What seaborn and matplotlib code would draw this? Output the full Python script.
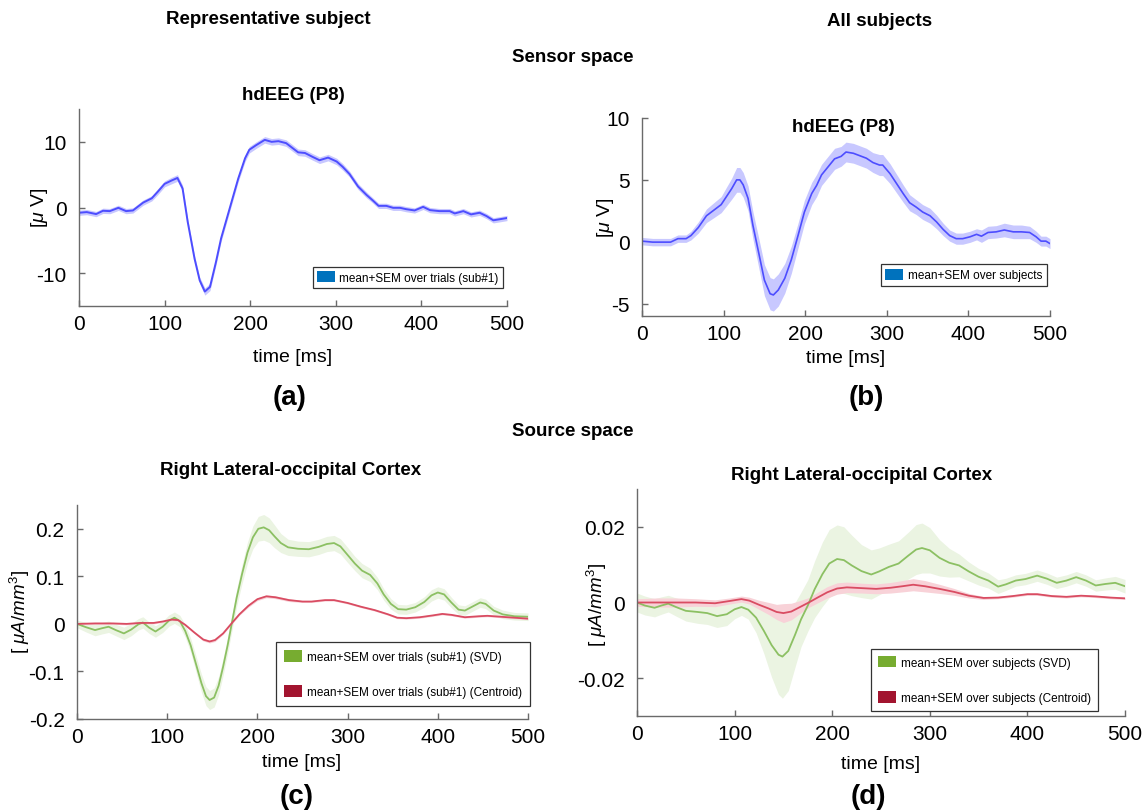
import matplotlib
matplotlib.use("Agg")
import matplotlib.pyplot as plt
import seaborn as sns
from matplotlib.patches import Patch

# ---------------- data ----------------
X_TICKS = [0, 100, 200, 300, 400, 500]
X_TICK_LABELS = ["0", "100", "200", "300", "400", "500"]

A_YTICKS = [-10, 0, 10]
A_YTICK_LABELS = ["-10", "0", "10"]
B_YTICKS = [-5, 0, 5, 10]
B_YTICK_LABELS = ["-5", "0", "5", "10"]
C_YTICKS = [-0.2, -0.1, 0, 0.1, 0.2]
C_YTICK_LABELS = ["-0.2", "-0.1", "0", "0.1", "0.2"]
D_YTICKS = [-0.02, 0, 0.02]
D_YTICK_LABELS = ["-0.02", "0", "0.02"]

# (a) hdEEG P8, representative subject
A_t = [0, 9, 20, 28, 36, 46, 55, 63, 75, 85, 92, 100, 108, 115, 121, 127, 135, 141, 147, 153,
       160, 166, 176, 186, 194, 199, 207, 217, 225, 233, 242, 250, 256, 264, 273, 281, 291, 301, 308, 316,
       326, 336, 343, 350, 359, 367, 375, 382, 392, 402, 410, 421, 433, 439, 449, 458, 468, 476, 484, 491, 500]
A_mean = [-0.8, -0.7, -1.0, -0.5, -0.55, -0.05, -0.55, -0.45, 0.75, 1.4, 2.4, 3.6, 4.1, 4.5, 2.9, -2.2, -7.8, -11.1, -12.8, -12.1,
          -8.3, -4.7, -0.15, 4.4, 7.5, 8.8, 9.5, 10.3, 10.0, 10.1, 9.8, 9.0, 8.4, 8.3, 7.7, 7.2, 7.6, 7.0, 6.2, 5.1,
          3.2, 1.9, 1.1, 0.25, 0.25, -0.05, -0.05, -0.25, -0.45, 0.1, -0.4, -0.55, -0.55, -0.9, -0.55, -1.05, -0.8, -1.3, -1.95, -1.8, -1.6]
A_sem = [0.4, 0.4, 0.4, 0.4, 0.4, 0.4, 0.4, 0.4, 0.4, 0.4, 0.45, 0.45, 0.5, 0.5, 0.5, 0.5, 0.5, 0.5, 0.55, 0.55,
         0.5, 0.5, 0.5, 0.5, 0.5, 0.5, 0.5, 0.5, 0.5, 0.5, 0.5, 0.5, 0.5, 0.5, 0.5, 0.5, 0.5, 0.5, 0.5, 0.45,
         0.45, 0.45, 0.4, 0.4, 0.4, 0.4, 0.4, 0.4, 0.4, 0.4, 0.4, 0.4, 0.4, 0.4, 0.4, 0.4, 0.4, 0.4, 0.4, 0.4, 0.4]

# (b) hdEEG P8, all subjects
B_t = [0, 13, 26, 35, 44, 54, 60, 69, 79, 87, 97, 103, 110, 116, 120, 124, 130, 136, 144, 150,
       157, 161, 167, 175, 183, 191, 199, 208, 214, 220, 228, 236, 244, 250, 259, 267, 275, 283, 291, 295,
       304, 312, 320, 328, 336, 344, 353, 361, 369, 377, 385, 393, 402, 410, 416, 424, 434, 444, 455, 465,
       475, 483, 489, 495, 500]
B_mean = [0.05, -0.03, -0.03, -0.03, 0.25, 0.25, 0.5, 1.15, 2.1, 2.5, 3.0, 3.6, 4.3, 5.0, 5.0, 4.6, 3.5, 1.3, -1.2, -3.1,
          -4.2, -4.3, -3.9, -2.95, -1.45, 0.45, 2.4, 3.9, 4.55, 5.4, 6.05, 6.7, 6.9, 7.25, 7.15, 6.95, 6.75, 6.4, 6.2, 6.2,
          5.5, 4.7, 3.9, 3.15, 2.8, 2.4, 2.1, 1.6, 1.0, 0.5, 0.25, 0.25, 0.4, 0.6, 0.45, 0.75, 0.8, 0.95, 0.8, 0.8,
          0.75, 0.4, 0.05, 0.05, -0.15]
B_sem = [0.3, 0.3, 0.3, 0.3, 0.3, 0.3, 0.35, 0.45, 0.55, 0.6, 0.65, 0.75, 0.85, 1.0, 1.0, 1.0, 1.0, 1.1, 1.2, 1.25,
         1.3, 1.3, 1.3, 1.2, 1.1, 1.0, 0.95, 0.9, 0.9, 0.85, 0.85, 0.85, 0.8, 0.8, 0.8, 0.8, 0.8, 0.8, 0.85, 0.85,
         0.8, 0.75, 0.7, 0.65, 0.6, 0.6, 0.6, 0.55, 0.5, 0.45, 0.45, 0.45, 0.45, 0.45, 0.5, 0.5, 0.5, 0.55, 0.55, 0.55,
         0.5, 0.45, 0.4, 0.4, 0.4]

# (c) source space, representative subject
C_svd_t = [0, 10, 20, 28, 35, 43, 52, 60, 68, 73, 80, 87, 95, 102, 108, 114, 120, 126, 132, 138,
           143, 147, 152, 157, 162, 167, 172, 177, 183, 189, 195, 201, 207, 213, 219, 226, 234, 245, 257, 268,
           277, 285, 292, 300, 308, 316, 325, 333, 340, 348, 356, 365, 375, 385, 393, 400, 407, 415, 423, 430,
           438, 447, 453, 462, 472, 485, 500]
C_svd = [0, -0.007, -0.013, -0.009, -0.006, -0.013, -0.02, -0.012, -0.001, 0.003, -0.008, -0.016, -0.006, 0.007, 0.013, 0.006, -0.015, -0.045, -0.085, -0.125,
         -0.152, -0.16, -0.155, -0.13, -0.09, -0.045, 0.005, 0.055, 0.105, 0.15, 0.182, 0.2, 0.203, 0.197, 0.184, 0.17, 0.161, 0.158, 0.157, 0.162,
         0.168, 0.17, 0.163, 0.145, 0.127, 0.112, 0.103, 0.085, 0.062, 0.042, 0.031, 0.03, 0.035, 0.046, 0.06, 0.066, 0.062, 0.045, 0.03, 0.028,
         0.036, 0.045, 0.042, 0.028, 0.02, 0.016, 0.015]
C_svd_sem = [0.008, 0.01, 0.012, 0.012, 0.012, 0.012, 0.013, 0.013, 0.012, 0.012, 0.012, 0.012, 0.012, 0.012, 0.012, 0.012, 0.013, 0.015, 0.017, 0.019,
             0.02, 0.02, 0.02, 0.019, 0.018, 0.017, 0.017, 0.018, 0.02, 0.022, 0.024, 0.026, 0.027, 0.026, 0.024, 0.02, 0.017, 0.016, 0.016, 0.016,
             0.016, 0.016, 0.016, 0.016, 0.015, 0.015, 0.014, 0.013, 0.012, 0.011, 0.01, 0.01, 0.01, 0.011, 0.012, 0.012, 0.012, 0.011, 0.01, 0.01,
             0.01, 0.01, 0.01, 0.009, 0.009, 0.008, 0.008]
C_cen_t = [0, 20, 40, 55, 70, 85, 95, 105, 112, 120, 130, 140, 147, 153, 162, 170, 180, 190, 200, 210,
           220, 235, 250, 260, 275, 285, 300, 315, 330, 345, 355, 365, 380, 395, 405, 415, 430, 445, 455, 470,
           485, 500]
C_cen = [0, 0.001, 0.001, 0.0, 0.002, 0.002, 0.005, 0.009, 0.008, -0.002, -0.018, -0.033, -0.037, -0.034, -0.02, -0.002, 0.02, 0.038, 0.052, 0.058,
         0.056, 0.05, 0.047, 0.047, 0.05, 0.05, 0.044, 0.036, 0.029, 0.02, 0.013, 0.012, 0.014, 0.018, 0.021, 0.019, 0.014, 0.016, 0.017, 0.015,
         0.013, 0.011]
C_cen_sem = [0.002, 0.002, 0.002, 0.002, 0.002, 0.002, 0.002, 0.002, 0.002, 0.002, 0.002, 0.003, 0.003, 0.003, 0.002, 0.002, 0.002, 0.003, 0.003, 0.003,
             0.003, 0.003, 0.002, 0.002, 0.002, 0.002, 0.002, 0.002, 0.002, 0.002, 0.002, 0.002, 0.002, 0.002, 0.002, 0.002, 0.002, 0.002, 0.002, 0.002,
             0.002, 0.002]

# (d) source space, all subjects
D_svd_t = [0, 8, 18, 25, 32, 40, 50, 62, 72, 82, 92, 100, 107, 114, 122, 130, 138, 145, 149, 155,
           162, 168, 175, 182, 190, 197, 205, 212, 220, 230, 240, 248, 258, 268, 278, 286, 292, 300, 310, 320,
           330, 340, 350, 360, 370, 378, 388, 398, 410, 420, 430, 440, 450, 460, 470, 480, 490, 500]
D_svd = [0, -0.0008, -0.0014, -0.0008, -0.0003, -0.0012, -0.0022, -0.0025, -0.0028, -0.0036, -0.0031, -0.0018, -0.0012, -0.0019, -0.004, -0.0075, -0.0113, -0.0138, -0.0143, -0.0128,
         -0.0085, -0.0045, -0.0008, 0.0035, 0.0075, 0.0103, 0.0115, 0.0112, 0.0098, 0.0083, 0.0074, 0.0082, 0.0094, 0.0103, 0.0124, 0.014, 0.0144, 0.0138, 0.0118, 0.0105,
         0.0098, 0.0082, 0.0068, 0.0058, 0.0042, 0.0048, 0.0058, 0.0062, 0.0071, 0.0063, 0.0052, 0.0058, 0.0067, 0.0058, 0.0045, 0.0049, 0.0052, 0.0043]
D_svd_sem = [0.0025, 0.0025, 0.0024, 0.0023, 0.0022, 0.0024, 0.0027, 0.003, 0.003, 0.003, 0.003, 0.0025, 0.0022, 0.0025, 0.004, 0.006, 0.0085, 0.0105, 0.011, 0.0105,
             0.0085, 0.0072, 0.0068, 0.0075, 0.0085, 0.009, 0.009, 0.0088, 0.008, 0.007, 0.0065, 0.0062, 0.006, 0.006, 0.0062, 0.0066, 0.0066, 0.006, 0.0048, 0.0038,
             0.003, 0.0025, 0.0022, 0.002, 0.0018, 0.0016, 0.0015, 0.0015, 0.0015, 0.0015, 0.0015, 0.0015, 0.0015, 0.0015, 0.0015, 0.0016, 0.0017, 0.0018]
D_cen_t = [0, 20, 40, 60, 80, 95, 107, 115, 125, 135, 143, 150, 158, 167, 176, 185, 195, 205, 215, 230,
           245, 260, 272, 283, 295, 310, 325, 340, 355, 370, 385, 400, 410, 425, 440, 455, 470, 485, 500]
D_cen = [0, 0, 0, 0, -0.0002, 0.0004, 0.0009, 0.0005, -0.0006, -0.0016, -0.0025, -0.0028, -0.0024, -0.0012, 0, 0.0013, 0.0027, 0.0037, 0.004, 0.0038,
         0.0036, 0.0039, 0.0043, 0.0047, 0.0043, 0.0036, 0.0028, 0.0018, 0.0012, 0.0013, 0.0017, 0.0022, 0.0022, 0.0017, 0.0015, 0.0018, 0.0016, 0.0013, 0.0011]
D_cen_sem = [0.001, 0.0012, 0.0012, 0.001, 0.0009, 0.0008, 0.0008, 0.0009, 0.0012, 0.0016, 0.002, 0.0025, 0.0022, 0.0017, 0.0013, 0.0014, 0.0015, 0.0015, 0.0014, 0.0013,
             0.0013, 0.0014, 0.0015, 0.0016, 0.0015, 0.0012, 0.0009, 0.0006, 0.0004, 0.0003, 0.0003, 0.0003, 0.0003, 0.0003, 0.0003, 0.0003, 0.0003, 0.0003, 0.0003]

LEG_A = ["mean+SEM over trials (sub#1)"]
LEG_B = ["mean+SEM over subjects"]
LEG_C = ["mean+SEM over trials (sub#1) (SVD)", "mean+SEM over trials (sub#1) (Centroid)"]
LEG_D = ["mean+SEM over subjects (SVD)", "mean+SEM over subjects (Centroid)"]

# ---------------- style ----------------
sns.set_theme(style="ticks")
plt.rcParams["font.family"] = ["Liberation Sans", "DejaVu Sans"]
plt.rcParams["text.color"] = "black"
plt.rcParams["axes.labelcolor"] = "black"
plt.rcParams["axes.unicode_minus"] = False
plt.rcParams["mathtext.fontset"] = "custom"
plt.rcParams["mathtext.rm"] = "Liberation Sans"
plt.rcParams["mathtext.it"] = "Liberation Sans:italic"
plt.rcParams["mathtext.bf"] = "Liberation Sans:bold"

AXC = "#6a6a6a"
BLUE_L, BLUE_F, BLUE_P = "#4d4dff", "#c8c8ff", "#0072bd"
GREEN_L, GREEN_F, GREEN_P = "#8cc063", "#ebf4e2", "#77ac30"
RED_L, RED_F, RED_P = "#d94c62", "#f8d2d8", "#a2142f"

W, H = 1146, 812
fig = plt.figure(figsize=(W / 100, H / 100), dpi=100)
fig.patch.set_facecolor("white")


def add_ax(l, t, r, b):
    return fig.add_axes([l / W, 1 - b / H, (r - l) / W, (b - t) / H])


def ftext(x, y, s, **kw):
    fig.text(x / W, 1 - y / H, s, ha="center", va="center", color="black", **kw)


def style(ax, ylim, yticks, ylabels):
    ax.set_xlim(0, 500)
    ax.set_ylim(*ylim)
    ax.set_xticks(X_TICKS)
    ax.set_xticklabels(X_TICK_LABELS)
    ax.set_yticks(yticks)
    ax.set_yticklabels(ylabels)
    ax.set_xlabel("")
    ax.set_ylabel("")
    sns.despine(ax=ax)
    for sp in ("left", "bottom"):
        ax.spines[sp].set_color(AXC)
        ax.spines[sp].set_linewidth(1.0)
    ax.tick_params(direction="in", length=4, width=1, color=AXC, labelsize=15, labelcolor="black")
    ax.tick_params(axis="x", pad=6)
    ax.tick_params(axis="y", pad=9)


def band(ax, t, m, s, fc, lc, lw):
    lo = [a - b for a, b in zip(m, s)]
    hi = [a + b for a, b in zip(m, s)]
    ax.fill_between(t, lo, hi, color=fc, linewidth=0)
    sns.lineplot(x=t, y=m, ax=ax, color=lc, linewidth=lw, legend=False)


def legend(ax, labels, colors, r, t, spacing, pad):
    handles = [Patch(facecolor=c, edgecolor="none") for c in colors]
    lg = ax.legend(handles, labels, loc="upper right", bbox_to_anchor=(r / W, 1 - t / H),
                   bbox_transform=fig.transFigure, frameon=True, fancybox=False,
                   framealpha=1, edgecolor="#333333", fontsize=8.5, borderpad=pad,
                   handlelength=1.5, handleheight=1.1, handletextpad=0.4,
                   labelspacing=spacing, borderaxespad=0)
    lg.get_frame().set_linewidth(0.9)
    for tx in lg.get_texts():
        tx.set_color("black")
    return lg


# (a)
axA = add_ax(79, 110, 507, 307)
band(axA, A_t, A_mean, A_sem, BLUE_F, BLUE_L, 1.4)
style(axA, (-15, 15), A_YTICKS, A_YTICK_LABELS)
legend(axA, LEG_A, [BLUE_P], 503, 268, 0.5, 0.35)

# (b)
axB = add_ax(642, 119, 1050, 317)
band(axB, B_t, B_mean, B_sem, BLUE_F, BLUE_L, 1.2)
style(axB, (-6, 10), B_YTICKS, B_YTICK_LABELS)
legend(axB, LEG_B, [BLUE_P], 1047, 265, 0.5, 0.4)

# (c)
axC = add_ax(77, 506, 528, 720)
band(axC, C_svd_t, C_svd, C_svd_sem, GREEN_F, GREEN_L, 1.3)
band(axC, C_cen_t, C_cen, C_cen_sem, RED_F, RED_L, 1.3)
style(axC, (-0.2, 0.25), C_YTICKS, C_YTICK_LABELS)
legend(axC, LEG_C, [GREEN_P, RED_P], 530, 643, 1.9, 0.7)

# (d)
axD = add_ax(637, 490, 1125, 717)
band(axD, D_svd_t, D_svd, D_svd_sem, GREEN_F, GREEN_L, 1.3)
band(axD, D_cen_t, D_cen, D_cen_sem, RED_F, RED_L, 1.3)
style(axD, (-0.03, 0.03), D_YTICKS, D_YTICK_LABELS)
legend(axD, LEG_D, [GREEN_P, RED_P], 1098, 650, 1.9, 0.6)

# ---------------- texts ----------------
HEAD = dict(fontsize=13.5, fontweight="bold")
ftext(268, 20, "Representative subject", **HEAD)
ftext(880, 22, "All subjects", **HEAD)
ftext(573, 58, "Sensor space", **HEAD)
ftext(293, 96, "hdEEG (P8)", **HEAD)
ftext(843, 127, "hdEEG (P8)", **HEAD)
ftext(573, 432, "Source space", **HEAD)
ftext(291, 471, "Right Lateral-occipital Cortex", **HEAD)
ftext(862, 476, "Right Lateral-occipital Cortex", **HEAD)

ftext(293, 358, "time [ms]", fontsize=14)
ftext(846, 359, "time [ms]", fontsize=14)
ftext(302, 763, "time [ms]", fontsize=14)
ftext(881, 765, "time [ms]", fontsize=14)

ftext(40, 208, r"[$\mu$ V]", fontsize=14, rotation=90)
ftext(606, 218, r"[$\mu$ V]", fontsize=14, rotation=90)
ftext(20, 612, r"[ $\mu A/mm^3$]", fontsize=13.5, rotation=90)
ftext(597, 605, r"[ $\mu A/mm^3$]", fontsize=13.5, rotation=90)

ftext(290, 398, "(a)", fontsize=20, fontweight="bold")
ftext(866, 398, "(b)", fontsize=20, fontweight="bold")
ftext(297, 797, "(c)", fontsize=20, fontweight="bold")
ftext(868, 797, "(d)", fontsize=20, fontweight="bold")

fig.savefig("out.png", dpi=100, facecolor="white")
